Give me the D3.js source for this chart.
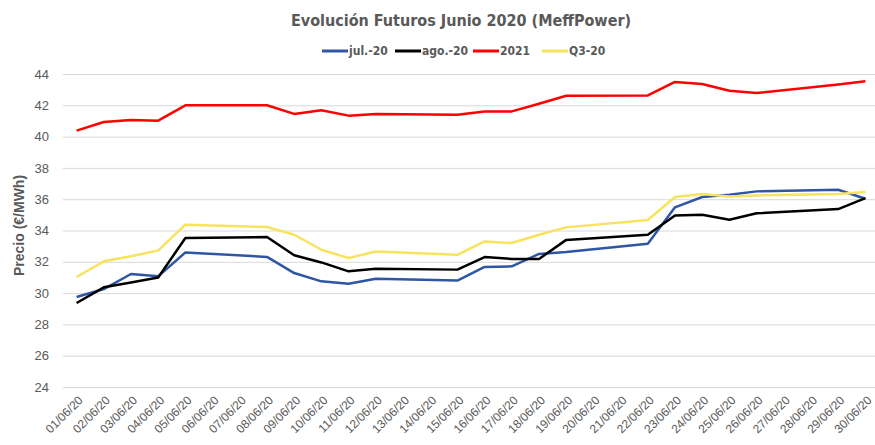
<!DOCTYPE html>
<html>
<head>
<meta charset="utf-8">
<script src="https://cdn.jsdelivr.net/npm/d3@7"></script>
<style>
  body { margin: 0; background: #fff; }
  .narrow { font-family: "DejaVu Sans Condensed", "DejaVu Sans", sans-serif; font-stretch: condensed; }
  .tick text { font-family: "Liberation Sans", Arial, sans-serif; fill: #595959; }
</style>
</head>
<body>
<script>
      const width = 875;
      const height = 445;
      const margins = { top: 74, right: -4, bottom: 58, left: 63 };

      // fechas del eje (todos los días de junio)
      const dates = [
        "01/06/20", "02/06/20", "03/06/20", "04/06/20", "05/06/20", "06/06/20",
        "07/06/20", "08/06/20", "09/06/20", "10/06/20", "11/06/20", "12/06/20",
        "13/06/20", "14/06/20", "15/06/20", "16/06/20", "17/06/20", "18/06/20",
        "19/06/20", "20/06/20", "21/06/20", "22/06/20", "23/06/20", "24/06/20",
        "25/06/20", "26/06/20", "27/06/20", "28/06/20", "29/06/20", "30/06/20",
      ];

      // días con sesión de mercado
      const tradingDays = [
        "01/06/20", "02/06/20", "03/06/20", "04/06/20", "05/06/20",
        "08/06/20", "09/06/20", "10/06/20", "11/06/20", "12/06/20",
        "15/06/20", "16/06/20", "17/06/20", "18/06/20", "19/06/20",
        "22/06/20", "23/06/20", "24/06/20", "25/06/20", "26/06/20",
        "29/06/20", "30/06/20",
      ];

      const jul20 = [
        29.75, 30.26, 31.22, 31.07, 32.6,
        32.31, 31.28, 30.75, 30.6, 30.92,
        30.8, 31.67, 31.71, 32.5, 32.63,
        33.16, 35.48, 36.14, 36.29, 36.5,
        36.6, 36.03,
      ];
      const ago20 = [
        29.37, 30.37, 30.68, 31.0, 33.52,
        33.58, 32.42, 31.96, 31.39, 31.56,
        31.5, 32.3, 32.18, 32.18, 33.4,
        33.73, 34.96, 35.0, 34.69, 35.1,
        35.37, 36.07,
      ];
      const y2021 = [
        40.38, 40.93, 41.06, 41.02, 42.0,
        42.0, 41.45, 41.68, 41.34, 41.45,
        41.4, 41.61, 41.61, 42.1, 42.61,
        42.63, 43.49, 43.36, 42.93, 42.78,
        43.33, 43.53,
      ];
      const q320 = [
        31.03, 32.03, 32.35, 32.73, 34.37,
        34.22, 33.73, 32.77, 32.24, 32.66,
        32.45, 33.3, 33.2, 33.73, 34.2,
        34.67, 36.14, 36.33, 36.18, 36.24,
        36.33, 36.46,
      ];

      const yTicks = [24, 26, 28, 30, 32, 34, 36, 38, 40, 42, 44];

      const series = [
        { name: "jul.-20", values: jul20, color: "#2F55A5" },
        { name: "ago.-20", values: ago20, color: "#000000" },
        { name: "2021", values: y2021, color: "#FF0000" },
        { name: "Q3-20", values: q320, color: "#F7E35E" },
      ];

      const svg = d3
        .select("body")
        .append("svg")
        .attr("width", width)
        .attr("height", height);

      const x = d3
        .scaleBand()
        .domain(dates)
        .range([margins.left, width - margins.right]);

      const y = d3
        .scaleLinear()
        .domain([24, 44])
        .range([height - margins.bottom, margins.top]);

      const cx = (d) => x(d) + x.bandwidth() / 2;

      // rejilla + etiquetas eje Y
      const yAxis = svg
        .append("g")
        .attr("transform", "translate(" + margins.left + ",0)")
        .call(
          d3
            .axisLeft(y)
            .tickValues(yTicks)
            .tickSize(-(width - margins.left - margins.right))
            .tickPadding(14)
        );
      yAxis.select(".domain").remove();
      yAxis.selectAll(".tick line").attr("stroke", "#d9d9d9").attr("stroke-width", 1);
      yAxis.selectAll(".tick text").attr("font-size", "13px");

      // eje X
      const xAxis = svg
        .append("g")
        .attr("transform", "translate(0," + y(24) + ")")
        .call(d3.axisBottom(x).tickSize(0).tickPadding(0));
      xAxis.select(".domain").remove();
      xAxis
        .selectAll(".tick text")
        .attr("font-size", "12px")
        .attr("text-anchor", "end")
        .attr("dy", "0.35em")
        .attr("transform", "translate(4,11) rotate(-45)");

      // líneas
      const line = d3
        .line()
        .x((d) => cx(d.date))
        .y((d) => y(d.value));

      series.forEach((s) => {
        const pts = tradingDays.map((dt, i) => ({ date: dt, value: s.values[i] }));
        svg
          .append("path")
          .datum(pts)
          .attr("fill", "none")
          .attr("stroke", s.color)
          .attr("stroke-width", 2.5)
          .attr("stroke-linejoin", "round")
          .attr("d", line);
      });

      // título
      svg
        .append("text")
        .attr("class", "narrow")
        .attr("x", 461)
        .attr("y", 26)
        .attr("text-anchor", "middle")
        .attr("font-size", "16px")
        .attr("font-weight", "bold")
        .attr("fill", "#595959")
        .text("Evolución Futuros Junio 2020 (MeffPower)");

      // título eje Y
      svg
        .append("text")
        .attr("transform", "translate(24," + (y(34) - 5) + ") rotate(-90)")
        .attr("text-anchor", "middle")
        .attr("font-family", "Liberation Sans, Arial, sans-serif")
        .attr("font-size", "14px")
        .attr("font-weight", "bold")
        .attr("fill", "#595959")
        .text("Precio (€/MWh)");

      // leyenda
      const legendX = [322, 395, 473, 542];
      const legend = svg
        .selectAll(".legend")
        .data(series)
        .enter()
        .append("g")
        .attr("class", "legend")
        .attr("transform", (d, i) => "translate(" + legendX[i] + ",51)");

      legend
        .append("line")
        .attr("x1", 0)
        .attr("x2", 26)
        .attr("stroke", (d) => d.color)
        .attr("stroke-width", 3);

      legend
        .append("text")
        .attr("class", "narrow")
        .attr("x", 27)
        .attr("dy", "0.35em")
        .attr("font-size", "12px")
        .attr("font-weight", "bold")
        .attr("fill", "#595959")
        .text((d) => d.name);
</script>
</body>
</html>
